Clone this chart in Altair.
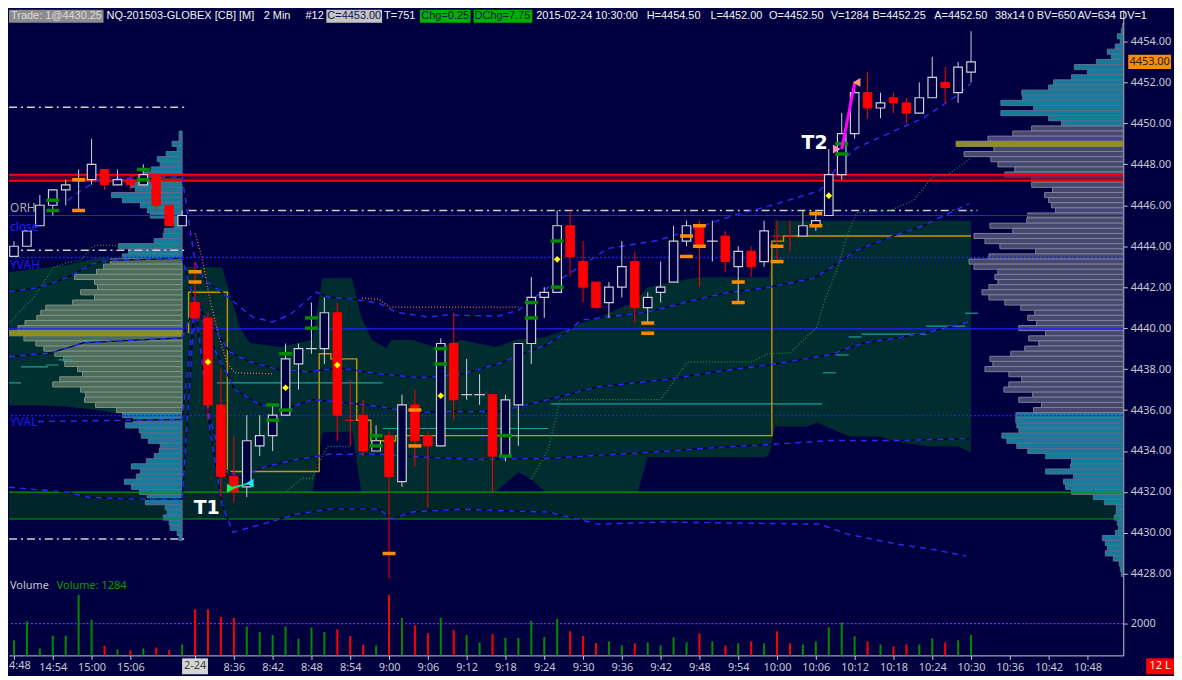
import json
import altair as alt
import pandas as pd

# ---------------- data ----------------
bar_open = [4443.5, 4444.0, 4445.0, 4446.0, 4446.75, 4447.25, 4447.25, 4447.75, 4447.0, 4447.25,
            4447.0, 4447.5, 4446.0, 4445.0, 4441.25, 4440.5, 4436.25, 4432.75, 4432.25, 4434.25,
            4434.75, 4435.75, 4438.25, 4439.0, 4439.0, 4440.75, 4435.5, 4435.75, 4434.0, 4434.75,
            4432.5, 4436.25, 4434.75, 4434.25, 4439.25, 4436.75, 4436.75, 4436.75, 4433.75, 4436.25,
            4439.25, 4441.5, 4441.75, 4445.0, 4443.25, 4442.25, 4441.25, 4442.0, 4443.25, 4441.0,
            4441.75, 4442.25, 4444.25, 4445.0, 4444.25, 4444.5, 4443.0, 4443.75, 4443.25, 4444.5,
            4444.5, 4444.5, 4445.0, 4445.5, 4447.5, 4449.5, 4451.5, 4450.75, 4451.25, 4451.0,
            4450.5, 4451.25, 4452.0, 4451.5, 4452.5]
bar_high = [4444.25, 4444.75, 4446.5, 4446.75, 4447.25, 4447.75, 4449.25, 4447.75, 4447.75, 4447.5,
            4448.0, 4447.5, 4446.0, 4445.75, 4443.25, 4440.75, 4438.0, 4434.75, 4435.75, 4435.75,
            4436.25, 4439.25, 4439.25, 4441.25, 4441.5, 4441.25, 4437.5, 4436.5, 4435.25, 4435.0,
            4436.75, 4437.0, 4435.0, 4439.5, 4440.75, 4438.5, 4437.75, 4436.75, 4436.75, 4439.25,
            4442.5, 4442.0, 4445.75, 4445.75, 4444.25, 4442.25, 4442.25, 4444.25, 4443.75, 4441.75,
            4443.25, 4445.0, 4445.25, 4445.25, 4445.25, 4444.75, 4444.0, 4444.0, 4445.25, 4445.25,
            4445.25, 4445.75, 4445.75, 4448.75, 4450.5, 4452.0, 4452.5, 4451.5, 4451.5, 4451.25,
            4452.0, 4453.25, 4452.75, 4453.0, 4454.5]
bar_low = [4443.5, 4444.0, 4445.0, 4445.5, 4446.0, 4445.75, 4447.0, 4446.75, 4447.0, 4446.75,
           4447.0, 4445.75, 4445.0, 4445.0, 4440.5, 4435.5, 4431.75, 4431.5, 4431.75, 4433.75,
           4434.0, 4435.75, 4437.0, 4438.75, 4438.25, 4434.5, 4434.25, 4433.75, 4434.0, 4427.75,
           4432.25, 4433.25, 4431.25, 4434.25, 4435.5, 4436.5, 4436.25, 4432.0, 4433.5, 4434.25,
           4438.25, 4440.5, 4441.75, 4442.5, 4441.25, 4441.0, 4440.5, 4441.5, 4440.25, 4440.25,
           4441.25, 4442.25, 4444.0, 4442.0, 4443.25, 4442.75, 4441.25, 4442.5, 4443.0, 4443.25,
           4443.75, 4444.5, 4444.75, 4445.5, 4447.25, 4449.25, 4450.25, 4450.25, 4450.5, 4450.0,
           4450.5, 4451.25, 4451.0, 4451.0, 4452.0]
bar_close = [4444.0, 4444.75, 4446.0, 4446.75, 4447.0, 4447.25, 4448.0, 4447.0, 4447.25, 4447.0,
             4447.5, 4446.0, 4445.0, 4445.5, 4440.5, 4436.25, 4432.75, 4432.0, 4434.5, 4434.75,
             4435.75, 4438.5, 4439.0, 4439.0, 4440.75, 4435.75, 4435.5, 4434.0, 4434.5, 4432.75,
             4436.25, 4434.5, 4434.25, 4439.25, 4436.5, 4436.75, 4436.75, 4433.75, 4436.5, 4439.25,
             4441.5, 4441.75, 4445.0, 4443.5, 4442.0, 4441.0, 4442.0, 4443.0, 4441.0, 4441.5,
             4442.0, 4444.25, 4445.0, 4444.0, 4444.25, 4443.25, 4443.75, 4443.0, 4444.75, 4444.5,
             4444.5, 4445.0, 4445.25, 4447.5, 4449.5, 4451.5, 4450.75, 4451.0, 4451.0, 4450.5,
             4451.25, 4452.25, 4451.75, 4452.75, 4453.0]
down_doji = [26, 59, 60]
bar_volume = [940, 2140, 440, 1240, 1240, 3800, 2240, 600, 380, 320, 440, 500, 340, 680,
              2900, 2900, 2420, 2360, 1820, 1460, 1280, 1820, 1040, 1760, 1460, 1640, 1220, 680, 620, 3800,
              2360, 1880, 1400, 2360, 1580, 1280, 800, 1340, 1100, 1100, 2180, 1160, 2300, 1520, 1210, 780,
              880, 630, 760, 820, 630, 1140, 820, 1390, 880, 630, 760, 880, 760, 1520, 760, 690, 880, 1770,
              2080, 1200, 880, 690, 570, 690, 690, 1070, 820, 950, 1284]

tick_idx = [0, 3, 6, 9, 14, 17, 20, 23, 26, 29, 32, 35, 38, 41, 44, 47, 50, 53, 56, 59, 62, 65, 68, 71, 74, 77, 80, 83]
tick_lbl = ["4:48", "14:54", "15:00", "15:06", "2-24", "8:36", "8:42", "8:48", "8:54", "9:00", "9:06", "9:12",
            "9:18", "9:24", "9:30", "9:36", "9:42", "9:48", "9:54", "10:00", "10:06", "10:12", "10:18", "10:24",
            "10:30", "10:36", "10:42", "10:48"]
price_ticks = [4428, 4430, 4432, 4434, 4436, 4438, 4440, 4442, 4444, 4446, 4448, 4450, 4452, 4454]
vol_ticks = [2000]
last_price = 4453.0

# volume profiles, one value per 0.25 row, from the top row down
right_profile_top = 4454.75
right_profile = [1, 2, 6, 3, 8, 16, 12, 27, 49, 36, 52, 70, 75, 102, 101, 123, 90, 123, 75, 62,
                 92, 111, 136, 168, 130, 160, 133, 126, 109, 119, 92, 92, 71, 79, 75, 72, 68, 96, 97, 134,
                 111, 150, 139, 124, 88, 135, 155, 150, 126, 129, 126, 135, 142, 135, 119, 103, 89, 96, 87, 105,
                 78, 95, 85, 99, 113, 134, 131, 139, 115, 102, 115, 120, 91, 105, 82, 90, 108, 108, 107, 105,
                 122, 117, 107, 96, 78, 52, 53, 78, 50, 60, 58, 52, 30, 19, 7, 7, 9, 6, 5, 8,
                 21, 18, 16, 18, 10, 4, 3, 2]
right_va = (4436.0, 4449.75)
right_poc = 4449.0
left_profile_top = 4449.5
left_profile = [3, 3, 10, 5, 16, 25, 22, 31, 38, 25, 52, 47, 71, 60, 42, 35, 32, 16, 8, 18,
                19, 28, 64, 54, 60, 72, 79, 86, 108, 88, 85, 102, 88, 110, 137, 142, 146, 158, 165, 175,
                159, 147, 139, 128, 119, 118, 105, 100, 123, 130, 102, 97, 98, 87, 66, 60, 49, 57, 43, 41,
                34, 22, 23, 28, 36, 51, 42, 46, 58, 51, 43, 35, 37, 17, 15, 19, 13, 12, 5, 3]
left_va = (4436.0, 4443.25)
left_poc = 4439.75

# shaded value-area bands: (bar index, top price, bottom price)
session_area = [(13.08, 4442.97, 4431.99), (16.08, 4442.97, 4431.99), (16.69, 4441.71, 4431.99),
                (17.46, 4440.05, 4431.99), (18.23, 4439.28, 4431.99), (20.54, 4439.08, 4431.99),
                (23.08, 4439.42, 4431.99), (23.85, 4442.44, 4434.90), (26.15, 4442.44, 4434.95),
                (26.85, 4440.54, 4431.99), (27.69, 4439.42, 4431.99), (28.77, 4439.03, 4431.99),
                (29.23, 4439.42, 4431.99), (30.77, 4439.42, 4431.99), (32.62, 4439.08, 4431.99),
                (34.62, 4439.42, 4431.99), (37.23, 4439.08, 4431.99), (39.0, 4439.47, 4432.96),
                (40.0, 4439.47, 4432.62), (41.08, 4439.57, 4431.99), (42.62, 4439.91, 4431.99),
                (43.85, 4440.25, 4431.99), (45.69, 4440.64, 4431.99), (47.69, 4441.22, 4431.99),
                (48.23, 4441.46, 4431.99), (49.0, 4442.0, 4433.69), (52.85, 4442.48, 4433.69),
                (58.0, 4442.48, 4433.69), (58.38, 4442.48, 4433.83), (58.85, 4445.25, 4435.2),
                (61.31, 4445.25, 4435.2), (62.08, 4445.25, 4435.39), (64.62, 4445.25, 4434.71),
                (66.92, 4445.25, 4434.71), (68.23, 4445.25, 4434.47), (70.77, 4445.25, 4434.22),
                (73.0, 4445.25, 4434.22), (74.0, 4445.25, 4433.93)]
prev_area = [(-0.4, 4442.73, 4436.22), (2.08, 4442.92, 4436.22), (4.0, 4443.07, 4436.17),
             (6.31, 4443.41, 4436.02), (8.23, 4443.45, 4435.83), (13.08, 4443.45, 4435.73)]

# VWAP and bands (bar index, price)
upper_band_2 = [(4.15, 4446.23), (5.15, 4446.71), (6.69, 4447.29), (13.0, 4447.39), (14.0, 4443.21),
                (14.77, 4442.34), (16.15, 4441.71), (17.31, 4441.12), (18.46, 4440.54), (20.0, 4440.30),
                (21.31, 4440.64), (23.38, 4441.76), (24.38, 4441.51), (26.15, 4441.42), (28.23, 4441.22),
                (29.54, 4440.78), (32.08, 4440.54), (33.38, 4440.64), (37.46, 4440.59), (39.0, 4440.88),
                (41.31, 4442.0), (45.92, 4443.89), (49.77, 4444.28), (52.85, 4444.91), (55.38, 4445.45),
                (58.46, 4445.98), (62.31, 4446.71), (64.0, 4448.17), (65.15, 4448.80), (67.69, 4449.53),
                (70.31, 4450.26), (72.85, 4451.33), (74.0, 4451.96)]
upper_band_1 = [(-0.38, 4441.76), (2.08, 4442.0), (4.15, 4442.48), (6.15, 4443.16), (7.46, 4443.31),
                (13.0, 4443.41), (14.0, 4441.22), (15.54, 4439.91), (16.69, 4438.84), (18.23, 4438.35),
                (20.54, 4437.97), (22.85, 4437.87), (25.15, 4438.06), (28.23, 4437.77), (31.31, 4437.58),
                (34.38, 4437.72), (37.46, 4438.26), (41.31, 4439.23), (42.62, 4439.76), (43.85, 4440.39),
                (45.15, 4440.49), (49.0, 4440.78), (52.85, 4441.41), (55.38, 4441.76), (58.0, 4441.95),
                (61.85, 4442.44), (62.85, 4442.82), (65.15, 4443.80), (67.69, 4444.43), (70.31, 4445.01),
                (73.85, 4446.08)]
vwap_line = [(-0.38, 4438.6), (2.85, 4438.79), (5.38, 4439.28), (6.69, 4439.33), (13.0, 4439.52),
             (14.0, 4441.22), (15.54, 4438.94), (17.08, 4436.99), (19.0, 4436.26), (21.31, 4436.12),
             (23.08, 4436.51), (25.69, 4436.36), (28.23, 4436.17), (30.77, 4435.88), (33.62, 4435.93),
             (37.46, 4435.93), (41.31, 4436.51), (45.15, 4437.14), (50.31, 4437.48), (55.38, 4437.97),
             (58.46, 4438.21), (63.08, 4438.70), (65.69, 4439.28), (68.23, 4439.52), (70.77, 4439.81),
             (73.77, 4440.30)]
lower_band_1 = [(1.85, 4435.44), (7.46, 4435.49), (13.0, 4435.54), (14.0, 4441.22), (15.15, 4435.54),
                (16.31, 4433.11), (17.46, 4432.72), (19.23, 4433.20), (21.85, 4433.59), (24.38, 4433.84),
                (28.23, 4433.84), (32.08, 4433.69), (35.92, 4433.59), (41.31, 4433.64), (45.15, 4433.79),
                (50.31, 4433.98), (55.38, 4434.22), (58.46, 4434.32), (63.08, 4434.51), (68.23, 4434.51),
                (74.0, 4434.61)]
lower_band_2 = [(-0.38, 4432.23), (4.15, 4431.99), (5.69, 4431.75), (8.77, 4431.65), (13.0, 4431.65),
                (14.0, 4441.22), (15.15, 4435.05), (16.08, 4431.40), (16.92, 4430.04), (19.23, 4430.43),
                (21.85, 4430.92), (24.38, 4431.16), (28.23, 4431.16), (29.23, 4430.68), (30.77, 4431.02),
                (34.62, 4431.16), (38.46, 4431.07), (41.31, 4431.02), (45.15, 4430.43), (50.31, 4430.53),
                (62.31, 4430.43), (64.38, 4429.95), (68.23, 4429.46), (70.77, 4429.22), (73.62, 4428.88)]
salmon_a = [(14.0, 4444.62), (14.54, 4443.45), (15.15, 4441.37), (15.92, 4439.42), (16.46, 4438.31),
            (17.08, 4437.82), (20.0, 4437.77)]
salmon_b = [(26.92, 4441.46), (28.23, 4441.41), (29.0, 4441.03), (39.0, 4441.03)]
gold_step = [(13.5, 4439.75), (13.5, 4441.75), (16.5, 4441.75), (16.5, 4433.0), (23.6, 4433.0),
             (23.6, 4438.75), (24.5, 4438.75), (24.5, 4438.5), (26.5, 4438.5), (26.5, 4435.5),
             (27.6, 4435.5), (27.6, 4434.5), (29.5, 4434.5), (29.5, 4434.75), (58.6, 4434.75),
             (58.6, 4444.25), (59.5, 4444.25), (59.5, 4444.5), (74.0, 4444.5)]
green_prev = [(-0.38, 4440.25), (1.54, 4441.51), (3.08, 4442.97), (4.15, 4443.21), (5.15, 4443.31),
              (6.08, 4443.99), (6.46, 4444.04), (13.0, 4444.04)]
green_a = [(21.08, 4432.04), (22.31, 4432.67), (23.08, 4432.67), (23.62, 4433.45), (24.23, 4434.22),
           (26.08, 4434.22)]
green_b = [(40.0, 4432.62), (41.31, 4434.08), (42.23, 4436.51), (50.0, 4436.51), (52.08, 4438.35),
           (57.08, 4438.35), (58.23, 4438.74), (60.0, 4438.79), (62.08, 4440.05), (62.69, 4441.37),
           (63.62, 4442.82), (64.38, 4444.43), (65.15, 4445.64), (67.69, 4445.74), (69.54, 4446.23),
           (71.08, 4447.44), (72.08, 4447.44), (74.0, 4448.31)]
teal_segments = [(-0.38, 0.54, 4437.33), (0.54, 2.62, 4438.11), (2.46, 3.46, 4438.2), (3.46, 4.54, 4438.45),
                 (5.54, 6.7, 4439.42), (15.7, 28.5, 4437.33), (28.5, 41.3, 4435.1), (41.5, 62.5, 4436.3),
                 (62.54, 63.54, 4437.82), (63.54, 64.54, 4438.69), (64.54, 65.54, 4439.57),
                 (65.54, 70.54, 4439.71), (70.54, 73.54, 4440.1), (73.54, 74.54, 4440.73)]
dashdot_levels = [(-0.38, 13.2, 4450.79), (-0.38, 13.2, 4443.8), (13.5, 74.5, 4445.74), (-0.38, 13.2, 4429.7)]
blue_solid_levels = [4445.5, 4439.96]
blue_dotted_levels = [4443.45, 4435.73]
red_zone = (4447.2, 4447.49)
green_zone = (4430.68, 4431.99)
green_ticks = [(3, 4446.25), (3, 4445.75), (10, 4447.75), (10, 4447.25), (20, 4436.25), (20, 4435.5),
               (21, 4438.75), (21, 4436.0), (23, 4440.5), (23, 4440.0), (28, 4434.75), (28, 4434.25),
               (33, 4439.0), (33, 4438.25), (38, 4434.75), (38, 4433.75), (40, 4441.25), (40, 4440.5),
               (42, 4444.25), (42, 4442.0), (64, 4449.0), (64, 4448.5)]
orange_ticks = [(5, 4447.25), (5, 4445.75), (14, 4442.75), (14, 4442.25), (29, 4429.0), (31, 4436.0),
                (31, 4434.25), (49, 4440.25), (49, 4439.75), (52, 4444.5), (52, 4443.5), (53, 4445.0),
                (53, 4444.0), (56, 4442.25), (56, 4441.25), (59, 4444.0), (59, 4443.25), (62, 4445.6),
                (62, 4445.0)]
diamonds = [(15, 4438.35), (21, 4437.09), (25, 4438.2), (33, 4436.7), (42, 4443.36), (63, 4446.47)]
left_labels = [("ORH", 4445.85, "#a8a8b0"), ("close", 4444.95, "#2020ff"), ("YVAH", 4443.1, "#1c1cf0"),
               ("YVAL", 4435.4, "#1c1cf0")]
trade_marks = {"T1": (14.9, 4431.2), "T2": (61.9, 4449.04)}
t1_arrows = [(16.77, 4432.18), (18.23, 4432.43)]
t2_arrows = [(63.62, 4448.75), (65.15, 4452.0)]
t2_path = [(64.0, 4448.75), (65.0, 4451.96)]
header_boxed = ["Trade: 1@4430.25", "C=4453.00", "Chg=0.25", "DChg=7.75"]
header_plain = ["NQ-201503-GLOBEX [CB] [M]", "2 Min", "#12", "T=751", "2015-02-24 10:30:00", "H=4454.50",
                "L=4452.00", "O=4452.50", "V=1284", "B=4452.25", "A=4452.50", "38x14 0", "BV=650", "AV=634",
                "DV=1"]

# ---------------- styling / layout ----------------
BG = "#000040"
RED = "#ff0000"
CW = "#d0d0d8"
AXC = "#c8c8d0"
FONT = "Noto Sans"
HFONT = "Liberation Sans"
HSIZE_BOX = 11
HSIZE = 11
W, HM, HV = 1120, 572, 77
X_DOM = [-0.385, 85.77]
P_DOM = [4427.76, 4455.55]
V_DOM = [0, 4812]
PX_PER_BAR = 13.0
# header layout (pixel x of each piece, box extents)
HB_POS = [(0, 95, 2, "#8c8c8c", "#dcdcdc"), (319, 375, 320, "#c4c4c4", "#101050"),
          (413, 464, 414.5, "#00b000", "#101050"), (467, 526, 468, "#00b000", "#101050")]
HP_POS = [98, 256, 298, 377, 530, 641, 705, 764, 826, 868, 930, 991, 1033, 1074, 1116]

xs = alt.Scale(domain=X_DOM, nice=False, zero=False)
ps = alt.Scale(domain=P_DOM, nice=False, zero=False)
vs = alt.Scale(domain=V_DOM, nice=False, zero=False)

Y_AX = alt.Axis(orient="right", values=price_ticks, format=".2f", grid=False, tickSize=4, tickColor=AXC,
                domainColor=AXC, labelColor=AXC, labelFont=FONT, labelFontSize=11, labelPadding=3,
                title=None, labelFlush=False, labelOverlap=False)
V_AX = alt.Axis(orient="right", values=vol_ticks, format="d", grid=False, tickSize=4, tickColor=AXC,
                domainColor=AXC, labelColor=AXC, labelFont=FONT, labelFontSize=11, labelPadding=3,
                title=None, labelFlush=False, labelOverlap=False)
lbl_arr = [""] * 86
for ti, tl in zip(tick_idx, tick_lbl):
    if ti not in (0, 14):
        lbl_arr[ti] = tl
X_AX = alt.Axis(orient="bottom", values=tick_idx, labelExpr=json.dumps(lbl_arr) + "[datum.value]",
                grid=False, tickSize=4, tickColor=AXC, domainColor=AXC, labelColor=AXC, labelFont=FONT,
                labelFontSize=11, labelPadding=2, title=None, labelFlush=False, labelOverlap=False)


def X(f):
    return alt.X(f, type="quantitative", scale=xs, axis=None)


def Y(f):
    return alt.Y(f, type="quantitative", scale=ps, axis=Y_AX)


def XV(f):
    return alt.X(f, type="quantitative", scale=xs, axis=X_AX)


def YV(f):
    return alt.Y(f, type="quantitative", scale=vs, axis=V_AX)


ONE = pd.DataFrame({"a": [0]})


def pline(pts, **kw):
    d = pd.DataFrame(pts, columns=["i", "p"])
    d["k"] = range(len(d))
    return alt.Chart(d).mark_line(clip=True, **kw).encode(x=X("i"), y=Y("p"), order=alt.Order("k:Q"))


def hseg(segs, **kw):
    d = pd.DataFrame(segs, columns=["x1", "x2", "p"])
    return alt.Chart(d).mark_rule(clip=True, **kw).encode(x=X("x1"), x2="x2", y=Y("p"))


def fullrule(levels, **kw):
    d = pd.DataFrame({"p": levels})
    return alt.Chart(d).mark_rule(clip=True, **kw).encode(y=Y("p"))


def zone(lo, hi, **kw):
    d = pd.DataFrame({"x1": [X_DOM[0]], "x2": [X_DOM[1]], "p1": [lo], "p2": [hi]})
    return alt.Chart(d).mark_rect(clip=True, **kw).encode(x=X("x1"), x2="x2", y=Y("p1"), y2="p2")


def area(pts, color):
    d = pd.DataFrame(pts, columns=["i", "top", "bot"])
    return alt.Chart(d).mark_area(clip=True, color=color, orient="vertical").encode(
        x=X("i"), y=Y("top"), y2="bot")


def box(x1, x2, y1, y2, color):
    return alt.Chart(ONE).mark_rect(color=color).encode(
        x=alt.value(x1), x2=alt.value(x2), y=alt.value(y1), y2=alt.value(y2))


def label(x, y, text, color, size=12, align="left", font=FONT, limit=0, weight="normal"):
    kw = dict(align=align, baseline="middle", color=color, fontSize=size, font=font, fontWeight=weight,
              text=text)
    if limit:
        kw["limit"] = limit
        kw["ellipsis"] = ""
    return alt.Chart(ONE).mark_text(**kw).encode(x=alt.value(x), y=alt.value(y))


def profile_df(top, vols, anchor):
    rows = []
    for k, v in enumerate(vols):
        p = top - 0.25 * k
        rows.append({"p1": p + 0.125, "p2": p - 0.125, "x1": anchor - v / PX_PER_BAR, "x2": anchor, "p": p})
    return pd.DataFrame(rows)


def prect(d, fill, stroke):
    return alt.Chart(d).mark_rect(clip=True, fill=fill, stroke=stroke, strokeWidth=1).encode(
        x=X("x1"), x2="x2", y=Y("p1"), y2="p2")


# candles
cdf = pd.DataFrame({"i": range(len(bar_open)), "o": bar_open, "h": bar_high, "l": bar_low, "c": bar_close,
                    "v": bar_volume})
cdf["dir"] = ["u" if (c > o or (c == o and i not in down_doji)) else "d"
              for i, o, c in zip(cdf.i, cdf.o, cdf.c)]
cdf["lo"] = cdf[["o", "c"]].min(axis=1)
cdf["hi"] = cdf[["o", "c"]].max(axis=1)
cdf["x1"] = cdf.i - 0.33
cdf["x2"] = cdf.i + 0.33
cdf["t1"] = cdf.i - 0.42
cdf["t2"] = cdf.i + 0.42
cdf["z"] = 0
up = cdf[cdf.dir == "u"]
dn = cdf[cdf.dir == "d"]

# profiles
rp = profile_df(right_profile_top, right_profile, X_DOM[1])
lp = profile_df(left_profile_top, left_profile, 13.0)
rp_in = rp[(rp.p >= right_va[0]) & (rp.p <= right_va[1])]
rp_out = rp[(rp.p < right_va[0]) | (rp.p > right_va[1])]
lp_in = lp[(lp.p >= left_va[0]) & (lp.p <= left_va[1])]
lp_out = lp[(lp.p < left_va[0]) | (lp.p > left_va[1])]

ticks_g = pd.DataFrame(green_ticks, columns=["i", "p"])
ticks_o = pd.DataFrame(orange_ticks, columns=["i", "p"])
for d in (ticks_g, ticks_o):
    d["x1"] = d.i - 0.5
    d["x2"] = d.i + 0.5

poc = pd.DataFrame({"x1": [-0.38, 72.85], "x2": [13.0, X_DOM[1]], "p1": [left_poc - 0.12, right_poc - 0.14],
                    "p2": [left_poc + 0.12, right_poc + 0.14]})

layers = [
    area(prev_area, "#00302f"),
    area(session_area, "#002e30"),
    zone(green_zone[0], green_zone[1], color="#00262c"),
    prect(lp_out, "#157b9c", "#5f6d88"),
    prect(lp_in, "#4d6c5c", "#7c9486"),
    prect(rp_out, "#157b9c", "#5f6d88"),
    prect(rp_in, "#46486c", "#7e80a0"),
    alt.Chart(poc).mark_rect(clip=True, color="#8f8f1e").encode(x=X("x1"), x2="x2", y=Y("p1"), y2="p2"),
    zone(red_zone[0], red_zone[1], color="#7a0020", opacity=0.6),
    fullrule(list(red_zone), color=RED, strokeWidth=2),
    fullrule(list(green_zone), color="#00a000", strokeWidth=1.2),
    fullrule(blue_solid_levels, color="#2020ff", strokeWidth=1.2),
    fullrule(blue_dotted_levels, color="#2020ff", strokeWidth=1.3, strokeDash=[2, 2]),
    hseg(dashdot_levels, color="#d0d0d0", strokeWidth=1.5, strokeDash=[8, 4, 2, 4]),
    hseg(teal_segments, color="#1f9c9c", strokeWidth=1.2),
    pline(gold_step, color="#c89600", strokeWidth=1.4),
    pline(green_prev, color="#1f8a50", strokeWidth=1.3, strokeDash=[1, 2]),
    pline(green_a, color="#1f8a50", strokeWidth=1.3, strokeDash=[1, 2]),
    pline(green_b, color="#1f8a50", strokeWidth=1.3, strokeDash=[1, 2]),
    pline(salmon_a, color="#ff6a50", strokeWidth=1.3, strokeDash=[1, 2]),
    pline(salmon_b, color="#ff6a50", strokeWidth=1.3, strokeDash=[1, 2]),
]
for band in (upper_band_2, upper_band_1, vwap_line, lower_band_1, lower_band_2):
    layers.append(pline(band, color="#000028", strokeWidth=1.3))
    layers.append(pline(band, color="#2a2aff", strokeWidth=1.4, strokeDash=[6, 5]))
layers += [
    alt.Chart(up).mark_rule(clip=True, color=CW, strokeWidth=1).encode(x=X("i"), y=Y("l"), y2="h"),
    alt.Chart(dn).mark_rule(clip=True, color=RED, strokeWidth=1).encode(x=X("i"), y=Y("l"), y2="h"),
    alt.Chart(up[up.o != up.c]).mark_rect(clip=True, fill=BG, stroke=CW, strokeWidth=1.2).encode(
        x=X("x1"), x2="x2", y=Y("lo"), y2="hi"),
    alt.Chart(dn[dn.o != dn.c]).mark_rect(clip=True, fill=RED, stroke=RED, strokeWidth=1).encode(
        x=X("x1"), x2="x2", y=Y("lo"), y2="hi"),
    alt.Chart(up[up.o == up.c]).mark_rule(clip=True, color=CW, strokeWidth=1.2).encode(
        x=X("t1"), x2="t2", y=Y("o")),
    alt.Chart(dn[dn.o == dn.c]).mark_rule(clip=True, color=RED, strokeWidth=1.2).encode(
        x=X("t1"), x2="t2", y=Y("o")),
    alt.Chart(ticks_g).mark_rule(clip=True, color="#008c00", strokeWidth=3.5).encode(
        x=X("x1"), x2="x2", y=Y("p")),
    alt.Chart(ticks_o).mark_rule(clip=True, color="#ff8c00", strokeWidth=3.5).encode(
        x=X("x1"), x2="x2", y=Y("p")),
    alt.Chart(pd.DataFrame(diamonds, columns=["i", "p"])).mark_point(
        shape="diamond", filled=True, size=45, color="#ffff00", opacity=1).encode(x=X("i"), y=Y("p")),
    pline(t1_arrows, color="#00e0a0", strokeWidth=2),
    pline(t2_path, color="#ff00ff", strokeWidth=3),
    alt.Chart(pd.DataFrame([t1_arrows[0]], columns=["i", "p"])).mark_point(
        shape="triangle-right", filled=True, size=80, color="#00ff60", opacity=1).encode(x=X("i"), y=Y("p")),
    alt.Chart(pd.DataFrame([t1_arrows[1]], columns=["i", "p"])).mark_point(
        shape="triangle-left", filled=True, size=80, color="#20e8ff", opacity=1).encode(x=X("i"), y=Y("p")),
    alt.Chart(pd.DataFrame([t2_arrows[0]], columns=["i", "p"])).mark_point(
        shape="triangle-right", filled=True, size=80, color="#ff88c8", opacity=1).encode(x=X("i"), y=Y("p")),
    alt.Chart(pd.DataFrame([t2_arrows[1]], columns=["i", "p"])).mark_point(
        shape="triangle-left", filled=True, size=80, color="#ff9a70", opacity=1).encode(x=X("i"), y=Y("p")),
]
for name, (ti, tp) in trade_marks.items():
    layers.append(alt.Chart(pd.DataFrame({"i": [ti], "p": [tp], "t": [name]})).mark_text(
        font="DejaVu Sans", fontWeight="bold", fontSize=19, color="#ffffff", align="center",
        baseline="middle").encode(x=X("i"), y=Y("p"), text="t:N"))
for txt, lp_, col in left_labels:
    layers.append(alt.Chart(pd.DataFrame({"i": [-0.3], "p": [lp_], "t": [txt]})).mark_text(
        font=FONT, fontSize=12, color=col, align="left", baseline="middle").encode(
        x=X("i"), y=Y("p"), text="t:N"))
# header strip
for txt, (bx1, bx2, tx, bcol, tcol) in zip(header_boxed, HB_POS):
    layers.append(box(bx1, bx2, 0, 13, bcol))
    layers.append(label(tx, 6.5, txt, tcol, font=HFONT, size=HSIZE_BOX, limit=bx2 - tx))
for txt, tx in zip(header_plain, HP_POS):
    layers.append(label(tx, 6.5, txt, "#f4f4f4", font=HFONT, size=HSIZE))
# last price badge on the price axis
badge = pd.DataFrame({"p1": [last_price - 0.35], "p2": [last_price + 0.35], "p": [last_price],
                      "t": ["%.2f" % last_price]})
layers += [
    alt.Chart(badge).mark_rect(color="#ff8c00").encode(x=alt.value(1125), x2=alt.value(1168), y=Y("p1"), y2="p2"),
    alt.Chart(badge).mark_text(font=FONT, fontSize=11, color="#202020", align="center", baseline="middle").encode(
        x=alt.value(1146.5), y=Y("p"), text="t:N"),
]
main = alt.layer(*layers).properties(width=W, height=HM)

vlayers = [
    alt.Chart(pd.DataFrame({"v": vol_ticks})).mark_rule(color="#8a20ff", strokeWidth=1.2, strokeDash=[2, 2]).encode(
        y=YV("v")),
    alt.Chart(up).mark_rule(color="#008c00", strokeWidth=2).encode(x=XV("i"), y=YV("v"), y2="z"),
    alt.Chart(dn).mark_rule(color=RED, strokeWidth=2).encode(x=XV("i"), y=YV("v"), y2="z"),
    label(1, 7, "Volume", "#c8c8d0", font=FONT, size=11),
    label(48, 7, "Volume: %d" % bar_volume[-1], "#00a000", font=FONT, size=11),
    label(0, 88, tick_lbl[0], AXC, font=FONT, size=11),
    box(174, 200, 80, 96, "#d4d4d4"),
    label(187, 88, tick_lbl[4], "#404040", font=FONT, size=11, align="center"),
    box(1143, 1171, 80, 96, "#ff0000"),
    label(1157, 88, "12 L", "#ffffff", font=FONT, size=11, align="center"),
]
vol = alt.layer(*vlayers).properties(width=W, height=HV)

chart = alt.vconcat(main, vol, spacing=0, bounds="flush").properties(
    padding=0, background=BG).configure_view(strokeWidth=0)

chart.save("out.html", embed_options={"renderer": "svg", "actions": False})
